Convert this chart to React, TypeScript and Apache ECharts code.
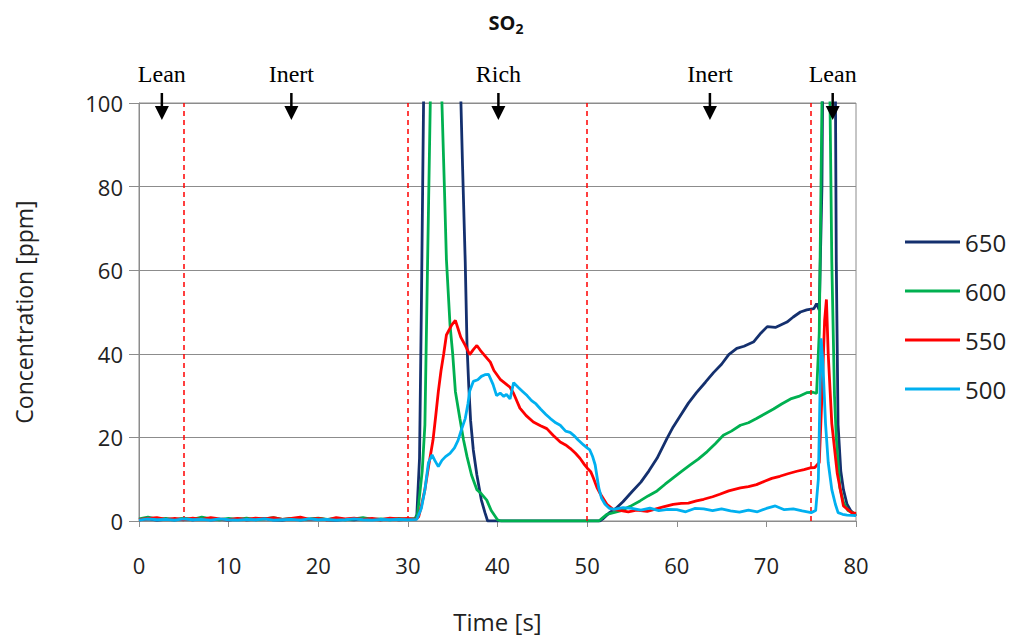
import React, { useEffect, useRef } from "react";
import * as echarts from "echarts";

const seriesNames = ["650", "600", "550", "500"];
const seriesColors = ["#14306e", "#00b050", "#ff0000", "#00b0f0"];

const s650: number[][] = [
  [0, 0.3], [1, 0.5], [2, 0.2], [3, 0.4], [4, 0.3], [5, 0.5], [6, 0.3], [7, 0.6], [8, 0.3], [9, 0.4],
  [10, 0.2], [11, 0.5], [12, 0.3], [13, 0.4], [14, 0.6], [15, 0.3], [16, 0.2], [17, 0.5], [18, 0.3], [19, 0.4],
  [20, 0.5], [21, 0.3], [22, 0.2], [23, 0.4], [24, 0.3], [25, 0.6], [26, 0.4], [27, 0.3], [28, 0.5], [29, 0.3],
  [30, 0.4], [30.8, 0.5], [31.0, 1.5], [31.3, 15], [31.5, 50], [31.8, 110], [32.2, 170], [33, 200], [34, 200],
  [35, 170], [35.8, 110], [36.1, 85], [36.4, 62], [36.6, 42], [36.8, 32], [37.0, 24], [37.3, 17], [37.7, 11],
  [38.2, 5], [38.6, 2], [38.9, 0], [40, 0], [45, 0], [50, 0], [51.4, 0], [51.8, 0.6], [52.5, 2], [53.2, 3],
  [54, 4.6], [55, 7], [56, 9.3], [56.9, 12], [57.8, 15], [58.9, 19.7], [59.6, 22.5], [60.4, 25.2], [61.3, 28.2],
  [62.2, 30.7], [63.2, 33.2], [64.1, 35.5], [65, 37.5], [65.8, 39.8], [66.7, 41.3], [67.5, 41.8], [68.6, 42.9],
  [69.4, 45], [70.1, 46.5], [71, 46.3], [72.3, 47.6], [73, 48.8], [73.8, 50], [74.5, 50.5], [75.3, 50.8],
  [75.6, 52], [75.9, 50.5], [76.2, 80], [76.4, 140], [77, 160], [77.7, 105], [77.8, 62], [78, 23], [78.3, 12],
  [78.6, 7.5], [79, 4], [79.4, 2.5], [80, 1.2],
];

const s600: number[][] = [
  [0, 0.5], [1, 0.9], [2, 0.4], [3, 0.6], [4, 0.3], [5, 0.7], [6, 0.4], [7, 0.9], [8, 0.5], [9, 0.3],
  [10, 0.6], [11, 0.4], [12, 0.7], [13, 0.3], [14, 0.5], [15, 0.8], [16, 0.4], [17, 0.6], [18, 0.3], [19, 0.5],
  [20, 0.7], [21, 0.4], [22, 0.6], [23, 0.3], [24, 0.5], [25, 0.8], [26, 0.4], [27, 0.5], [28, 0.3], [29, 0.6],
  [30, 0.4], [30.9, 0.6], [31.1, 2], [31.6, 12], [31.9, 23], [32.2, 62], [32.5, 100], [32.8, 150], [33.2, 160],
  [33.6, 125], [33.8, 100], [34.1, 78], [34.3, 62.6], [34.7, 47], [35.0, 40], [35.3, 31], [35.8, 24.5],
  [36.2, 19.5], [36.6, 15.4], [37.1, 11], [37.7, 7.5], [38.2, 6.5], [38.8, 5], [39.3, 2.5], [40, 0.3],
  [40.4, 0], [45, 0], [51.3, 0], [52.2, 1.6], [53.7, 2.4], [54.8, 3.5], [55.9, 4.8], [56.8, 6], [57.8, 7.2],
  [58.7, 8.8], [59.6, 10.3], [60.5, 11.8], [61.5, 13.4], [62.4, 14.8], [63.4, 16.6], [64.3, 18.5], [65.2, 20.5],
  [66.1, 21.5], [67.1, 22.9], [68, 23.5], [68.9, 24.5], [69.8, 25.6], [70.8, 26.8], [71.7, 28], [72.7, 29.2],
  [73.6, 29.8], [74.5, 30.7], [75.2, 30.8], [75.6, 30.5], [75.9, 45], [76.2, 100], [76.5, 150], [76.9, 140],
  [77.1, 100], [77.3, 62], [77.6, 30], [77.8, 20], [78.2, 8], [78.6, 4.5], [79.1, 2.5], [80, 1.6],
];

const s550: number[][] = [
  [0, 0.3], [1, 0.6], [2, 0.8], [3, 0.4], [4, 0.6], [5, 0.3], [6, 0.7], [7, 0.4], [8, 0.8], [9, 0.5],
  [10, 0.3], [11, 0.6], [12, 0.4], [13, 0.7], [14, 0.5], [15, 0.8], [16, 0.4], [17, 0.6], [18, 0.9], [19, 0.4],
  [20, 0.6], [21, 0.3], [22, 0.8], [23, 0.5], [24, 0.7], [25, 0.4], [26, 0.6], [27, 0.3], [28, 0.7], [29, 0.5],
  [30, 0.6], [30.9, 0.4], [31.2, 1], [31.5, 3.5], [31.9, 7.5], [32.3, 13], [32.8, 19.3], [33.1, 25], [33.4, 31],
  [33.7, 36], [34.0, 40], [34.3, 44.5], [34.9, 46.9], [35.3, 48], [35.6, 46], [35.9, 44], [36.4, 42],
  [36.9, 39.8], [37.3, 41], [37.7, 42], [38.2, 40.5], [38.6, 39.5], [39.2, 38], [39.6, 36], [40.3, 33.9],
  [41.0, 32.7], [41.4, 32], [41.8, 30.5], [42.5, 27], [43.2, 25.2], [44.0, 23.7], [44.8, 22.8], [45.5, 22.1],
  [46.2, 20.5], [47.0, 18.9], [47.6, 18.2], [48.1, 17.4], [48.7, 16.2], [49.2, 15], [49.7, 13.5], [50.0, 12.7],
  [50.4, 11.8], [50.7, 10.3], [51.1, 8], [51.5, 6.4], [52.2, 4], [52.9, 2.8], [53.8, 2.5], [54.6, 2.2],
  [55.5, 2.6], [56.7, 2.3], [57.5, 2.8], [58.5, 3.4], [59.6, 4], [60.5, 4.2], [61.3, 4.3], [62.2, 4.8],
  [63, 5.2], [64, 5.8], [64.8, 6.4], [65.8, 7.2], [67.1, 7.9], [68, 8.2], [68.9, 8.7], [69.8, 9.5], [70.6, 10.2],
  [71.5, 10.7], [72.4, 11.3], [73.4, 11.9], [74.2, 12.3], [74.9, 12.7], [75.4, 12.8], [75.9, 14], [76.2, 30],
  [76.5, 48], [76.7, 53], [76.9, 40], [77.3, 23.3], [77.9, 11.5], [78.6, 3.6], [79.5, 2], [80, 1.8],
];

const s500: number[][] = [
  [0, 0.2], [1, 0.5], [2, 0.3], [3, 0.4], [4, 0.2], [5, 0.5], [6, 0.3], [7, 0.4], [8, 0.2], [9, 0.5],
  [10, 0.3], [11, 0.2], [12, 0.4], [13, 0.3], [14, 0.5], [15, 0.2], [16, 0.3], [17, 0.4], [18, 0.2], [19, 0.5],
  [20, 0.3], [21, 0.4], [22, 0.2], [23, 0.3], [24, 0.5], [25, 0.3], [26, 0.2], [27, 0.4], [28, 0.3], [29, 0.4],
  [30, 0.3], [31, 0.4], [31.5, 3], [31.9, 7.5], [32.3, 14], [32.7, 15.8], [33.0, 14.5], [33.4, 13], [33.8, 14.5],
  [34.2, 15.4], [34.7, 16.2], [35.2, 17.5], [35.6, 19.3], [36.0, 22], [36.4, 24.5], [36.7, 28], [36.9, 31.1],
  [37.3, 33.4], [37.8, 33.8], [38.2, 34.6], [38.6, 35], [39.0, 35.1], [39.5, 32.7], [39.9, 30], [40.3, 30.6],
  [40.7, 29.8], [41.0, 30.3], [41.4, 29.2], [41.8, 33.1], [42.3, 32], [42.8, 31], [43.3, 30], [43.8, 28.8],
  [44.3, 28], [44.8, 26.8], [45.4, 25.5], [45.9, 24.5], [46.5, 23.5], [47.0, 22.9], [47.6, 21.5], [48.1, 21.2],
  [48.5, 20.5], [49.0, 19.4], [49.6, 18.2], [50.0, 17.5], [50.3, 17], [50.6, 15.5], [50.9, 13.4], [51.3, 7.9],
  [51.6, 5.5], [52.0, 4], [52.5, 3], [53, 2.8], [54, 3.2], [55, 3], [56, 2.6], [57, 3.1], [58, 2.5], [59, 2.8],
  [60, 2.7], [61, 2.2], [62, 3.0], [63, 2.9], [64, 2.5], [65, 2.9], [66, 2.4], [67, 2.1], [68, 2.6], [69, 2.2],
  [70, 3.0], [71, 3.6], [72, 2.7], [73, 2.9], [74, 2.4], [75, 2.0], [75.5, 2.5], [75.8, 10], [76.1, 43.7],
  [76.3, 38], [76.6, 23.3], [76.9, 14], [77.3, 7.5], [77.7, 4], [78.0, 2], [78.5, 1.6], [79, 1.4], [80, 1.3],
];

const seriesData = [s650, s600, s550, s500];

const phaseBoundaries = [5, 30, 50, 75];
const annotationTimes = [2.55, 17, 40.1, 63.7, 77.4];
const annotationLabels = ["Lean", "Inert", "Rich", "Inert", "Lean"];

const xTicks = { min: 0, max: 80, interval: 10 };
const yTicks = { min: 0, max: 100, interval: 20 };

const SANS = "'Open Sans', 'Noto Sans', sans-serif";
const SERIF = "'Liberation Serif', 'DejaVu Serif', serif";

export default function App() {
  const ref = useRef<HTMLDivElement>(null);

  useEffect(() => {
    if (!ref.current) return;
    const chart = echarts.init(ref.current, null, { renderer: "svg" });

    const lineSeries: any[] = seriesNames.map((name, i) => ({
      name,
      type: "line",
      data: seriesData[i],
      showSymbol: false,
      symbol: "none",
      clip: true,
      lineStyle: { color: seriesColors[i], width: 2.8 },
      itemStyle: { color: seriesColors[i] },
      z: 3 + i,
      markLine:
        i === 0
          ? {
              silent: true,
              symbol: ["none", "none"],
              label: { show: false },
              lineStyle: { color: "#ff0000", width: 1.5, type: [5, 4] },
              data: phaseBoundaries.map((x) => ({ xAxis: x })),
            }
          : undefined,
    }));

    const annotationSeries = {
      name: "annotations",
      type: "custom",
      clip: false,
      silent: true,
      z: 20,
      data: annotationTimes.map((t) => [t, yTicks.max]),
      renderItem: (params: any, api: any) => {
        const p = api.coord([api.value(0), api.value(1)]);
        const x = p[0];
        const y = p[1];
        return {
          type: "group",
          children: [
            {
              type: "line",
              shape: { x1: x, y1: y - 10, x2: x, y2: y + 6 },
              style: { stroke: "#000", lineWidth: 2.5 },
            },
            {
              type: "polygon",
              shape: { points: [[x - 7, y + 3], [x + 7, y + 3], [x, y + 17]] },
              style: { fill: "#000" },
            },
            {
              type: "text",
              x,
              y: y - 29,
              style: {
                text: annotationLabels[params.dataIndex],
                fontFamily: SERIF,
                fontSize: 24,
                fill: "#000",
                align: "center",
                verticalAlign: "middle",
              },
            },
          ],
        };
      },
    };

    chart.setOption({
      animation: false,
      backgroundColor: "#fff",
      grid: {
        left: 139,
        right: 154,
        top: 103,
        bottom: 111,
        show: true,
        borderColor: "#8c8c8c",
        borderWidth: 1,
      },
      legend: {
        data: seriesNames.map((name) => ({ name, icon: "rect" })),
        orient: "vertical",
        left: 900,
        top: 225,
        itemWidth: 55,
        itemHeight: 3,
        itemGap: 25,
        textStyle: { fontFamily: SANS, fontSize: 24, lineHeight: 24, color: "#222" },
      },
      graphic: [
        {
          type: "text",
          x: 506,
          y: 22,
          style: {
            text: "{a|SO}{b|2}",
            align: "center",
            verticalAlign: "middle",
            rich: {
              a: { fontFamily: SANS, fontSize: 20, fontWeight: "bold", fill: "#111", lineHeight: 26, verticalAlign: "middle" },
              b: { fontFamily: SANS, fontSize: 14, fontWeight: "bold", fill: "#111", lineHeight: 14, verticalAlign: "bottom" },
            },
          },
        },
      ],
      xAxis: {
        type: "value",
        min: xTicks.min,
        max: xTicks.max,
        interval: xTicks.interval,
        name: "Time [s]",
        nameLocation: "middle",
        nameGap: 88,
        nameTextStyle: { fontFamily: SANS, fontSize: 24, color: "#222" },
        axisLine: { show: true, onZero: false, lineStyle: { color: "#8c8c8c", width: 1 } },
        axisTick: { show: true, inside: false, length: 6, lineStyle: { color: "#8c8c8c" } },
        axisLabel: { fontFamily: SANS, fontSize: 22, color: "#222", margin: 33 },
        splitLine: { show: false },
      },
      yAxis: {
        type: "value",
        min: yTicks.min,
        max: yTicks.max,
        interval: yTicks.interval,
        name: "Concentration [ppm]",
        nameLocation: "middle",
        nameGap: 104,
        nameTextStyle: { fontFamily: SANS, fontSize: 23, color: "#222" },
        axisLine: { show: true, lineStyle: { color: "#8c8c8c", width: 1 } },
        axisTick: { show: true, inside: false, length: 10, lineStyle: { color: "#8c8c8c" } },
        axisLabel: { fontFamily: SANS, fontSize: 22, color: "#222", margin: 16 },
        splitLine: { show: true, lineStyle: { color: "#8c8c8c", width: 1 } },
      },
      series: [...lineSeries, annotationSeries],
    });

    return () => chart.dispose();
  }, []);

  return (
    <div
      ref={ref}
      style={{ position: "absolute", left: 0, top: 0, width: 1010, height: 638 }}
    />
  );
}
